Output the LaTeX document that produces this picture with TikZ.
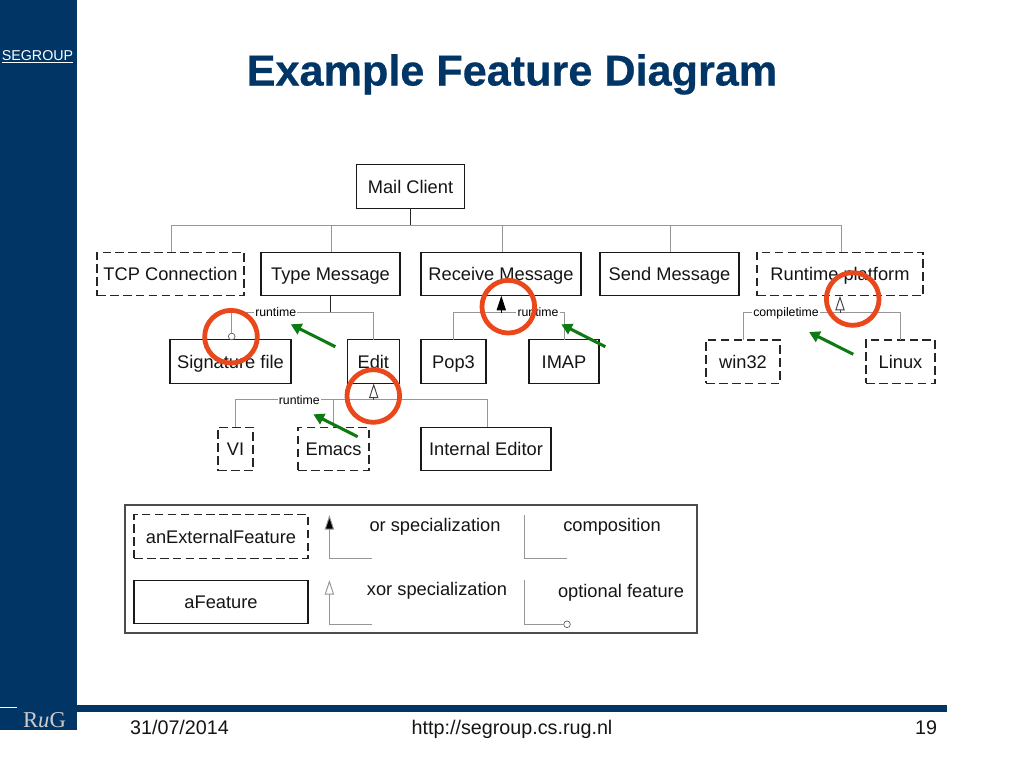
\documentclass[tikz,border=0pt]{standalone}
\usepackage{fontspec}
\setmainfont{Liberation Sans}
\newfontfamily\serifrug{Liberation Serif}
\newfontfamily\titlefont[FakeBold=0.5]{Liberation Sans Bold}
\usetikzlibrary{arrows.meta,calc}
\definecolor{navy}{HTML}{003566}
\definecolor{ringred}{HTML}{E8481C}
\definecolor{arrowgreen}{HTML}{0E7A12}
\definecolor{linegray}{HTML}{969696}
\definecolor{inkdark}{HTML}{151515}
\tikzset{
  x=0.75pt,y=-0.75pt,
  boxtext/.style={font=\fontsize{13.7}{16}\selectfont,text=inkdark,text height=9.9pt,text depth=0pt,inner sep=0pt,outer sep=0pt},
  featbox/.style={boxtext,draw=black!90,line width=0.8pt,minimum width=#1*0.75pt},
  solidbox/.style={featbox=#1,minimum height=43.5*0.75pt},
  dashbox/.style={solidbox=#1,dash pattern=on 6.5pt off 3.2pt,draw=black!85,line width=0.85pt},
  conn/.style={draw=linegray,line width=0.7pt},
  stem/.style={draw=black!85,line width=0.7pt},
  tag/.style={font=\fontsize{9.2}{11}\selectfont,text=black,fill=white,inner sep=1pt,text height=6.6pt,text depth=0pt},
  legendtext/.style={boxtext},
  ortip/.style={-{Triangle[length=11pt,width=7pt,fill=black]}},
  xortip/.style={-{Triangle[open,length=11pt,width=7pt,fill=white]}},
  optcirc/.style={circle,draw=black!65,fill=white,line width=0.5pt,minimum size=5pt,inner sep=0pt},
  ring/.style={circle,draw=ringred,line width=3.6pt,minimum size=39.5pt,inner sep=0pt},
  greenarrow/.style={draw=arrowgreen,line width=2.3pt,-{Triangle[length=8pt,width=8.5pt,fill=arrowgreen]}},
  footer/.style={font=\fontsize{14.8}{17}\selectfont,text=inkdark,text height=10.7pt,text depth=0pt,inner sep=0pt},
}
\begin{document}
\begin{tikzpicture}
\useasboundingbox (0,0) rectangle (1024,768);
\fill[white] (0,0) rectangle (1024,768);
% slide frame
\fill[navy] (0,0) rectangle (76.7,730);
\fill[navy] (76.7,705) rectangle (947,711.5);
\draw[white,line width=0.7pt] (0,707.5) -- (17,707.5);
\node[font=\fontsize{10.7}{12}\selectfont,text=white,inner sep=0pt] (seg) at (37.5,56.5) {\underline{SEGROUP}};
\node[font=\serifrug\fontsize{17}{19}\selectfont,text=black!20!white,inner sep=0pt,text height=11.2pt,text depth=0pt] (rug) at (44.5,720.5) {R\textit{u}G};
\node[font=\titlefont\fontsize{32.4}{38}\selectfont,text=navy,inner sep=0pt,text height=23.3pt,text depth=0pt] (title) at (512,70) {Example Feature Diagram};
\node[footer] (date) at (179.5,727) {31/07/2014};
\node[footer] (url) at (512,727) {http://segroup.cs.rug.nl};
\node[footer] (page) at (926,727) {19};

% feature nodes
\node[solidbox=108] (mail) at (410.5,186.7) {Mail Client};
\node[dashbox=147] (tcp) at (170.5,274) {TCP Connection};
\node[solidbox=139] (type) at (330.5,274) {Type Message};
\node[solidbox=160] (recv) at (501,274) {Receive Message};
\node[solidbox=139] (send) at (669.5,274) {Send Message};
\node[dashbox=166] (plat) at (840,274) {Runtime platform};
\node[solidbox=121] (sig) at (230.5,361.7) {Signature file};
\node[solidbox=52] (edit) at (373.3,361.7) {Edit};
\node[solidbox=65] (pop) at (453.5,361.7) {Pop3};
\node[solidbox=70] (imap) at (564,361.7) {IMAP};
\node[dashbox=74] (win) at (743,361.7) {win32};
\node[dashbox=69] (linux) at (900.5,361.7) {Linux};
\node[dashbox=35] (vi) at (235.5,449) {VI};
\node[dashbox=71] (emacs) at (333.5,449) {Emacs};
\node[solidbox=130] (inted) at (486,449) {Internal Editor};

% root composition
\coordinate (rootbar) at (410.5,225);
\draw[conn] (rootbar) -| ($(tcp.north)+(1,0)$);
\draw[conn] (rootbar) -| ($(type.north)+(1,0)$);
\draw[conn] (rootbar) -| ($(recv.north)+(1.5,0)$);
\draw[conn] (rootbar) -| ($(send.north)+(1,0)$);
\draw[conn] (rootbar) -| ($(plat.north)+(1.5,0)$);
\draw[stem] (mail.south) -- (rootbar);

% Type Message group
\coordinate (typebar) at (330,312);
\node[optcirc] (sigopt) at (231.7,336.5) {};
\draw[conn] (typebar) -| (sigopt.north);
\draw[conn] (typebar) -| (edit.north);
\draw[stem] (type.south -| typebar) -- (typebar);
\node[tag] (tagtype) at (275.7,312) {runtime};

% Edit group
\coordinate (editbar) at (373.7,399.7);
\draw[conn] (editbar) -| (vi.north);
\draw[conn] (editbar) -| (emacs.north);
\draw[conn] (editbar) -| ($(inted.north)+(1,0)$);
\draw[conn,draw=black!75,xortip] (editbar) -- (edit.south -| editbar);
\node[tag] (tagedit) at (299.3,399.7) {runtime};

% Receive Message group
\coordinate (recvbar) at (501.3,312.5);
\draw[conn] (recvbar) -| (pop.north);
\draw[conn] (recvbar) -| (imap.north);
\draw[conn,draw=black,ortip] (recvbar) -- (recv.south -| recvbar);
\node[tag] (tagrecv) at (538,312.5) {runtime};

% Runtime platform group
\coordinate (platbar) at (840,312.5);
\draw[conn] (platbar) -| (win.north);
\draw[conn] (platbar) -| (linux.north);
\draw[conn,draw=black!75,xortip] (platbar) -- (plat.south -| platbar);
\node[tag] (tagplat) at (786,312.5) {compiletime};

% legend
\node[draw=black!70,line width=0.8pt,minimum width=572*0.75pt,minimum height=128*0.75pt,inner sep=0pt] (legend) at (411,569) {};
\node[dashbox=174] (lext) at (221,536.5) {anExternalFeature};
\node[solidbox=174] (lfeat) at (221,602.2) {aFeature};
\coordinate (orend) at (372.3,558.3);
\coordinate (ortop) at (329.4,515);
\draw[conn,ortip] (orend) -| (ortop);
\node[legendtext] (lor) at (435,525) {or specialization};
\coordinate (compend) at (567.4,558.3);
\coordinate (comptop) at (524,515);
\draw[conn] (compend) -| (comptop);
\node[legendtext] (lcomp) at (612,525) {composition};
\coordinate (xorend) at (372.3,624.3);
\coordinate (xortop) at (329.4,580);
\draw[conn,xortip] (xorend) -| (xortop);
\node[legendtext] (lxor) at (437,589) {xor specialization};
\node[optcirc] (optend) at (567,624.3) {};
\coordinate (opttop) at (524,580);
\draw[conn] (optend) -| (opttop);
\node[legendtext] (lopt) at (621,590.7) {optional feature};

% annotations
\node[ring] (ringa) at (231,336.7) {};
\node[ring] (ringb) at (373.3,396) {};
\node[ring] (ringc) at (508.3,306.7) {};
\node[ring] (ringd) at (852.7,299) {};
\coordinate (ga) at (335.3,346.7); \coordinate (gatip) at (290.7,324.3);
\coordinate (gb) at (357.7,436.7); \coordinate (gbtip) at (313.3,414.3);
\coordinate (gc) at (605.3,346.7); \coordinate (gctip) at (561.3,324.3);
\coordinate (gd) at (853.3,354.3); \coordinate (gdtip) at (809,332);
\draw[greenarrow] (ga) -- (gatip);
\draw[greenarrow] (gb) -- (gbtip);
\draw[greenarrow] (gc) -- (gctip);
\draw[greenarrow] (gd) -- (gdtip);
\end{tikzpicture}
\end{document}
